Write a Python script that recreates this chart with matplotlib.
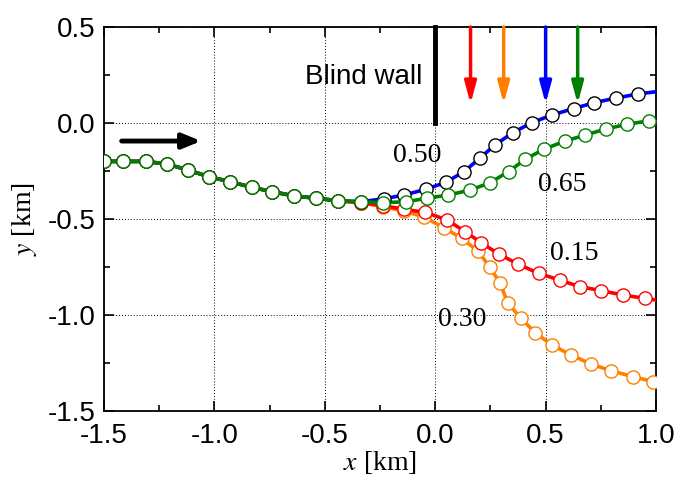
import matplotlib
matplotlib.use("Agg")
import matplotlib.pyplot as plt
from matplotlib.ticker import MultipleLocator

# ---- data ----
prefix_x = [-1.5, -1.413, -1.312, -1.214, -1.119, -1.025, -0.93, -0.832, -0.737, -0.639, -0.538, -0.44]
prefix_y = [-0.2, -0.2, -0.2, -0.214, -0.245, -0.28, -0.305, -0.335, -0.358, -0.38, -0.392, -0.405]

x050 = prefix_x + [-0.337, -0.234, -0.140, -0.042, 0.048, 0.131, 0.204, 0.272, 0.352, 0.438, 0.529, 0.627, 0.720, 0.819, 0.917, 1.0]
y050 = prefix_y + [-0.41, -0.395, -0.375, -0.345, -0.309, -0.253, -0.181, -0.113, -0.050, 0.002, 0.042, 0.075, 0.106, 0.130, 0.151, 0.163]

x065 = prefix_x + [-0.337, -0.237, -0.131, -0.038, 0.060, 0.159, 0.249, 0.332, 0.408, 0.491, 0.589, 0.680, 0.773, 0.868, 0.969, 1.0]
y065 = prefix_y + [-0.41, -0.415, -0.41, -0.392, -0.375, -0.349, -0.311, -0.253, -0.189, -0.137, -0.094, -0.0625, -0.031, -0.007, 0.012, 0.016]

x015 = prefix_x + [-0.337, -0.237, -0.14, -0.045, 0.053, 0.136, 0.207, 0.290, 0.377, 0.468, 0.563, 0.657, 0.752, 0.849, 0.948, 1.0]
y015 = prefix_y + [-0.415, -0.43, -0.45, -0.465, -0.505, -0.566, -0.623, -0.684, -0.736, -0.783, -0.818, -0.853, -0.873, -0.896, -0.913, -0.922]

x030 = prefix_x + [-0.337, -0.237, -0.143, -0.05, 0.038, 0.121, 0.193, 0.246, 0.294, 0.328, 0.388, 0.453, 0.528, 0.614, 0.705, 0.795, 0.895, 0.988, 1.0]
y030 = prefix_y + [-0.415, -0.436, -0.458, -0.49, -0.545, -0.601, -0.667, -0.748, -0.835, -0.936, -1.017, -1.092, -1.156, -1.208, -1.255, -1.29, -1.321, -1.347, -1.35]

labels = ["0.50", "0.65", "0.15", "0.30"]
label_x = [-0.08, 0.574, 0.63, 0.121]
label_y = [-0.17, -0.318, -0.679, -1.026]

arrow_x = [0.16, 0.31, 0.50, 0.645]
arrow_colors = ["#ff0000", "#ff8000", "#0000ff", "#008000"]

xticks = [-1.5, -1.0, -0.5, 0.0, 0.5, 1.0]
yticks = [-1.5, -1.0, -0.5, 0.0, 0.5]

fig = plt.figure(figsize=(6.78, 4.78), dpi=100)
ax = fig.add_axes([0.1534, 0.1402, 0.8142, 0.8033])
ax.set_xlim(-1.5, 1.0)
ax.set_ylim(-1.5, 0.5)

series = [
    (x030, y030, "#ff8000", "#ff8000"),
    (x015, y015, "#ff0000", "#ff0000"),
    (x050, y050, "#0000ff", "black"),
    (x065, y065, "#008000", "#008000"),
]
for xs, ys, lc, mc in series:
    n = len(xs)
    ax.plot(xs, ys, color=lc, lw=2.6, zorder=3)
    ax.plot(xs[:n - 1], ys[:n - 1], ls="none", marker="o", ms=9.5, mfc="white",
            mec=mc, mew=1.0, zorder=4)

# grid
ax.grid(True, which="major", ls=(0, (1, 2)), color="black", lw=0.7)
ax.set_axisbelow(True)

ax.set_xticks(xticks)
ax.set_yticks(yticks)
ax.xaxis.set_minor_locator(MultipleLocator(0.25))
ax.yaxis.set_minor_locator(MultipleLocator(0.25))
ax.set_xticklabels([f"{v:.1f}" for v in xticks], family="Liberation Sans")
ax.set_yticklabels([f"{v:.1f}" for v in yticks], family="Liberation Sans")
ax.tick_params(which="both", direction="in", top=True, right=True, labelsize=20, width=1.2)
ax.tick_params(which="major", length=7)
ax.tick_params(axis="x", which="major", pad=9)
ax.tick_params(axis="y", which="major", pad=6)
ax.tick_params(which="minor", length=4)
for s in ax.spines.values():
    s.set_linewidth(1.3)

ax.set_xlabel(r"$\it{x}$ [km]", family="Liberation Serif", fontsize=20, labelpad=0)
ax.set_ylabel(r"$\it{y}$ [km]", family="Liberation Serif", fontsize=20, labelpad=6)
ax.xaxis.label.set_math_fontfamily("stix")
ax.yaxis.label.set_math_fontfamily("stix")

# curve labels
for t, lx, ly in zip(labels, label_x, label_y):
    ax.text(lx, ly, t, family="Liberation Serif", fontsize=20, ha="center", va="center", zorder=6)

# blind wall
ax.plot([0, 0], [0.0, 0.5], color="black", lw=3.5, zorder=5, clip_on=False)
ax.text(-0.06, 0.241, "Blind wall", family="Liberation Sans", fontsize=20, ha="right", va="center")

# black arrow
ax.annotate("", xy=(-1.06, -0.094), xytext=(-1.42, -0.094),
            arrowprops=dict(arrowstyle="-|>,head_length=1.1,head_width=0.45", lw=3.5,
                            color="black", shrinkA=0, shrinkB=0))

# coloured arrows
for axx, c in zip(arrow_x, arrow_colors):
    ax.annotate("", xy=(axx, 0.10), xytext=(axx, 0.5),
                arrowprops=dict(arrowstyle="-|>,head_length=1.3,head_width=0.35", lw=2.5,
                                color=c, shrinkA=0, shrinkB=0))

fig.savefig("out.png", dpi=100)
